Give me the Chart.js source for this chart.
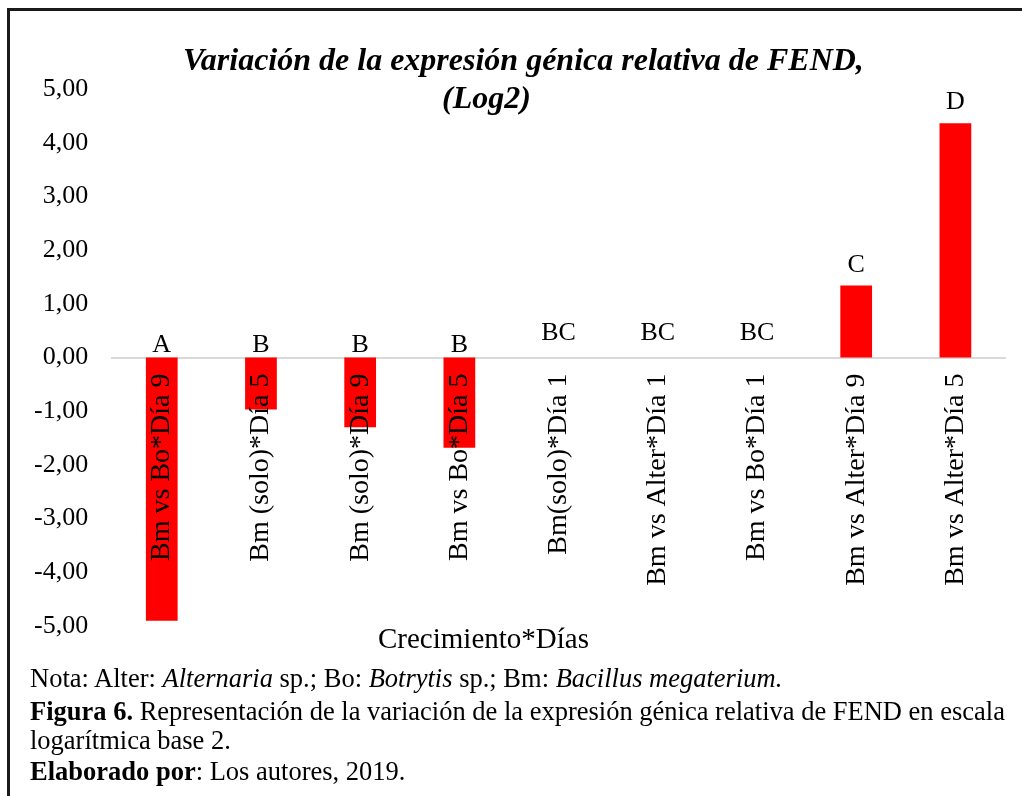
<!DOCTYPE html>
<html>
<head>
<meta charset="utf-8">
<script src="https://cdn.jsdelivr.net/npm/chart.js@4/dist/chart.umd.min.js"></script>
<style>
  html, body { margin: 0; background: #fff; overflow: hidden; }
  #wrap { position: relative; width: 1022px; height: 796px; overflow: hidden; background: #fff; }
  .line { position: absolute; background: #1a1a1a; }
  #chart { position: absolute; left: 0; top: 0; }
  #edge { position: absolute; left: 1012px; top: 12px; width: 10px; height: 784px; background: #fff; }
  .t { position: absolute; white-space: nowrap; line-height: 1; color: #000; font-family: 'Liberation Serif', 'Times New Roman', serif; }
  .title { font-weight: bold; font-style: italic; font-size: 32px; }
  .foot { font-size: 26.5px; left: 30px; }
</style>
</head>
<body>
<div id="wrap">
  <canvas id="chart" width="1022" height="680"></canvas>
  <div id="edge"></div>
  <div class="line" style="left:7px; top:8px; width:1015px; height:3px;"></div>
  <div class="line" style="left:7px; top:8px; width:3px; height:788px;"></div>
  <div class="t title" style="left:183px; top:43px;">Variación de la expresión génica relativa de FEND,</div>
  <div class="t title" style="left:442px; top:81px;">(Log2)</div>
  <div class="t" style="left:378px; top:624px; font-size:29px;">Crecimiento*Días</div>
  <div class="t foot" style="top:665px;">Nota: Alter: <i>Alternaria</i> sp.; Bo: <i>Botrytis</i> sp.; Bm: <i>Bacillus megaterium.</i></div>
  <div class="t foot" style="top:698px;"><b>Figura 6.</b> Representación de la variación de la expresión génica relativa de FEND en escala</div>
  <div class="t foot" style="top:727px;">logarítmica base 2.</div>
  <div class="t foot" style="top:758px;"><b>Elaborado por</b>: Los autores, 2019.</div>
</div>
<script>
// Datos del gráfico
const categories = [
  'Bm vs Bo*Día 9', 'Bm (solo)*Día 5', 'Bm (solo)*Día 9', 'Bm vs Bo*Día 5',
  'Bm(solo)*Día 1', 'Bm vs Alter*Día 1', 'Bm vs Bo*Día 1', 'Bm vs Alter*Día 9', 'Bm vs Alter*Día 5'
];
const log2Values = [-4.90, -0.97, -1.30, -1.68, 0, 0, 0, 1.34, 4.36];
const groupLetters = ['A', 'B', 'B', 'B', 'BC', 'BC', 'BC', 'C', 'D'];
const yTicks = [-5, -4, -3, -2, -1, 0, 1, 2, 3, 4, 5];

Chart.defaults.color = '#000';
Chart.defaults.font.family = "'Liberation Serif', 'Times New Roman', serif";

// Letras de significancia sobre cada barra
const letterPlugin = {
  id: 'letters',
  afterDatasetsDraw(chart) {
    const ctx = chart.ctx;
    const y = chart.scales.y;
    const meta = chart.getDatasetMeta(0);
    ctx.save();
    ctx.font = "26px 'Liberation Serif', serif";
    ctx.fillStyle = '#000';
    ctx.textAlign = 'center';
    ctx.textBaseline = 'alphabetic';
    meta.data.forEach((bar, i) => {
      const v = log2Values[i];
      const offset = v < 0 ? 6 : (v > 0 ? 14 : 18);
      ctx.fillText(groupLetters[i], bar.x, y.getPixelForValue(Math.max(v, 0)) - offset);
    });
    ctx.restore();
  }
};

new Chart(document.getElementById('chart'), {
  type: 'bar',
  data: {
    labels: categories,
    datasets: [{
      data: log2Values,
      backgroundColor: '#ff0000',
      borderWidth: 0,
      barPercentage: 0.32,
      categoryPercentage: 1
    }]
  },
  options: {
    responsive: false,
    animation: false,
    // el eje y cuenta el padding de las etiquetas dos veces, por eso 10 a la izquierda
    layout: { padding: { left: 10, top: 89, right: 17, bottom: 54 } },
    plugins: { legend: { display: false }, tooltip: { enabled: false } },
    scales: {
      x: {
        position: { y: 0 },
        afterFit(scale) {
          // el eje se dibuja en el cero, no ocupa espacio abajo
          scale.height = 0;
          scale.paddingLeft = 0;
          scale.paddingRight = 0;
        },
        grid: { display: false, drawTicks: false },
        border: { display: true, color: '#d9d9d9', width: 2 },
        ticks: {
          z: 1,
          autoSkip: false,
          minRotation: 90,
          maxRotation: 90,
          padding: 16,
          font: { size: 28 }
        }
      },
      y: {
        min: -5,
        max: 5,
        afterBuildTicks(scale) { scale.ticks = yTicks.map(v => ({ value: v })); },
        grid: { display: false, drawTicks: false },
        border: { display: false },
        ticks: {
          padding: 24,
          font: { size: 26 },
          callback: v => v.toFixed(2).replace('.', ',')
        }
      }
    }
  },
  plugins: [letterPlugin]
});
</script>
</body>
</html>
